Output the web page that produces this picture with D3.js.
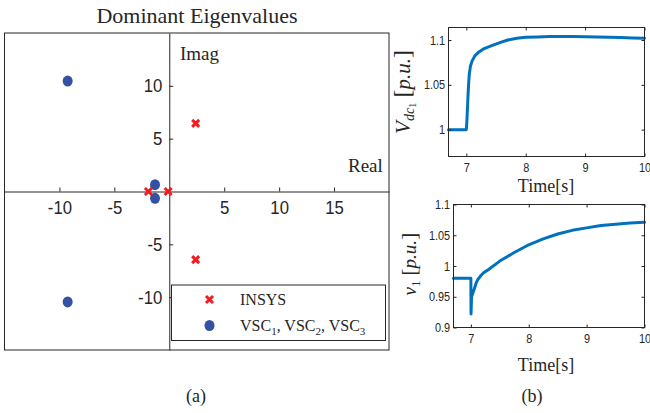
<!DOCTYPE html>
<html>
<head>
<meta charset="utf-8">
<script src="https://cdn.jsdelivr.net/npm/d3@7"></script>
<style>
  body { margin: 0; background: #fff; }
  text { fill: #262626; }
  .sans { font-family: "Liberation Sans", Arial, sans-serif; }
  .serif { font-family: "Liberation Serif", "Times New Roman", serif; }
</style>
</head>
<body>
<svg id="fig" width="650" height="413"></svg>
<script>
// eigenvalues (real, imag)
const insysReal = [-1.9, -0.1, 2.4, 2.4];
const insysImag = [0, 0, 6.45, -6.45];
const vscReal = [-9.25, -9.25, -1.3, -1.3];
const vscImag = [10.45, -10.45, 0.65, -0.65];
const eigXTicks = [-10, -5, 5, 10, 15];
const eigYTicks = [-10, -5, 5, 10];

// Vdc1 after the step at t = 7 s
const vdcTime = [6.7, 7.0, 7.01, 7.02, 7.03, 7.04, 7.05, 7.07, 7.1, 7.15, 7.2, 7.3, 7.45, 7.6, 7.7, 7.85, 8.0, 8.2, 8.4, 8.6, 8.8, 9.0, 9.2, 9.4, 9.6, 9.8, 10.0];
const vdcValue = [1.0, 1.0, 1.01, 1.025, 1.04, 1.052, 1.062, 1.071, 1.077, 1.083, 1.086, 1.0905, 1.0944, 1.098, 1.1, 1.102, 1.103, 1.1035, 1.104, 1.104, 1.104, 1.1037, 1.1033, 1.103, 1.1027, 1.1023, 1.102];

// v1 at the ac bus
const v1Time = [6.7, 7.0, 7.003, 7.012, 7.03, 7.06, 7.09, 7.12, 7.17, 7.22, 7.3, 7.5, 7.75, 8.0, 8.25, 8.5, 8.75, 9.0, 9.25, 9.5, 9.75, 10.0];
const v1Value = [0.98, 0.98, 0.922, 0.95, 0.955, 0.963, 0.972, 0.978, 0.984, 0.989, 0.994, 1.008, 1.022, 1.0345, 1.044, 1.052, 1.058, 1.062, 1.066, 1.068, 1.070, 1.071];

const timeTicks = [7, 8, 9, 10];
const vdcTicks = [1, 1.05, 1.1];
const v1Ticks = [0.9, 0.95, 1, 1.05, 1.1];

const svg = d3.select("#fig");
const axisColor = "#262626";
const lineBlue = "#0072bd";
const dotBlue = "#3352a3";
const xRed = "#f01c22";

// matlab style labels: plain hyphen, no trailing zeros
const fmt = d => String(+d.toFixed(2));

// ---------- (a) eigenvalue plane ----------
const xE = d3.scaleLinear().domain([-15, 20]).range([4.5, 389]);
const yE = d3.scaleLinear().domain([-15, 15]).range([350, 33]);

svg.append("rect")
    .attr("x", xE(-15)).attr("y", yE(15))
    .attr("width", xE(20) - xE(-15)).attr("height", yE(-15) - yE(15))
    .attr("fill", "none").attr("stroke", axisColor).attr("stroke-width", 1);

const gx = svg.append("g")
    .attr("transform", `translate(0,${yE(0)})`)
    .call(d3.axisBottom(xE).tickValues(eigXTicks).tickSize(-4).tickSizeOuter(0).tickPadding(9).tickFormat(fmt));
const gy = svg.append("g")
    .attr("transform", `translate(${xE(0)},0)`)
    .call(d3.axisLeft(yE).tickValues(eigYTicks).tickSize(-4).tickSizeOuter(0).tickPadding(8).tickFormat(fmt));
[gx, gy].forEach(g => {
  g.select(".domain").attr("stroke", axisColor);
  g.selectAll(".tick line").attr("stroke", axisColor);
  g.selectAll(".tick text").attr("class", "sans").attr("font-size", 19)
      .attr("fill", axisColor).attr("transform", "scale(0.88,1)");
});

svg.append("text").attr("class", "serif").attr("x", 197).attr("y", 23)
    .attr("text-anchor", "middle").attr("font-size", 22).text("Dominant Eigenvalues");
svg.append("text").attr("class", "serif").attr("x", 180).attr("y", 60)
    .attr("font-size", 19).text("Imag");
svg.append("text").attr("class", "serif").attr("x", 348).attr("y", 172)
    .attr("font-size", 19).text("Real");

const vscPts = vscReal.map((r, i) => ({re: r, im: vscImag[i]}));
const insysPts = insysReal.map((r, i) => ({re: r, im: insysImag[i]}));

function crossPath(cx, cy, s) {
  return `M${cx - s},${cy - s}L${cx + s},${cy + s}M${cx - s},${cy + s}L${cx + s},${cy - s}`;
}

svg.append("g").selectAll("ellipse").data(vscPts).join("ellipse")
    .attr("cx", d => xE(d.re)).attr("cy", d => yE(d.im))
    .attr("rx", 5).attr("ry", 5.5).attr("fill", dotBlue);
svg.append("g").selectAll("path").data(insysPts).join("path")
    .attr("d", d => crossPath(xE(d.re), yE(d.im), 3.5))
    .attr("stroke", xRed).attr("stroke-width", 3).attr("fill", "none");

// legend
const leg = svg.append("g");
leg.append("rect").attr("x", 171.5).attr("y", 285).attr("width", 214).attr("height", 55.5)
    .attr("fill", "#fff").attr("stroke", axisColor).attr("stroke-width", 1);
leg.append("path").attr("d", crossPath(209.5, 299.5, 3.5))
    .attr("stroke", xRed).attr("stroke-width", 3).attr("fill", "none");
leg.append("ellipse").attr("cx", 209.5).attr("cy", 325.5).attr("rx", 5).attr("ry", 5.5).attr("fill", dotBlue);
leg.append("text").attr("class", "serif").attr("x", 240).attr("y", 304.5)
    .attr("font-size", 16).text("INSYS");
const vscLabel = leg.append("text").attr("class", "serif").attr("x", 240).attr("y", 330.5).attr("font-size", 16);
[1, 2, 3].forEach((k, i) => {
  vscLabel.append("tspan").attr("dy", i === 0 ? 0 : -4).text((i === 0 ? "" : ", ") + "VSC");
  vscLabel.append("tspan").attr("dy", 4).attr("font-size", 11).text(k);
});

svg.append("text").attr("class", "serif").attr("x", 196).attr("y", 402)
    .attr("text-anchor", "middle").attr("font-size", 18).text("(a)");

// ---------- (b) time responses ----------
function timePanel(xr, yr, ydom, times, values, yticks) {
  const x = d3.scaleLinear().domain([6.7, 10]).range(xr);
  const y = d3.scaleLinear().domain(ydom).range(yr);
  const g = svg.append("g");

  g.append("path")
      .datum(times.map((t, i) => [t, values[i]]))
      .attr("d", d3.line().x(d => x(d[0])).y(d => y(d[1])))
      .attr("fill", "none").attr("stroke", lineBlue).attr("stroke-width", 3)
      .attr("stroke-linejoin", "round").attr("stroke-linecap", "round");

  const axes = [
    g.append("g").attr("transform", `translate(0,${yr[0]})`)
        .call(d3.axisBottom(x).tickValues(timeTicks).tickSize(-3).tickSizeOuter(0).tickPadding(6).tickFormat(fmt)),
    g.append("g").attr("transform", `translate(0,${yr[1]})`)
        .call(d3.axisTop(x).tickValues(timeTicks).tickSize(-3).tickSizeOuter(0).tickFormat("")),
    g.append("g").attr("transform", `translate(${xr[0]},0)`)
        .call(d3.axisLeft(y).tickValues(yticks).tickSize(-3).tickSizeOuter(0).tickPadding(4).tickFormat(fmt)),
    g.append("g").attr("transform", `translate(${xr[1]},0)`)
        .call(d3.axisRight(y).tickValues(yticks).tickSize(-3).tickSizeOuter(0).tickFormat(""))
  ];
  axes.forEach(a => {
    a.select(".domain").remove();
    a.selectAll(".tick line").attr("stroke", axisColor);
    a.selectAll(".tick text").attr("class", "sans").attr("font-size", 13)
        .attr("fill", axisColor).attr("transform", "scale(0.84,1)");
  });
  g.append("rect")
      .attr("x", xr[0]).attr("y", yr[1])
      .attr("width", xr[1] - xr[0]).attr("height", yr[0] - yr[1])
      .attr("fill", "none").attr("stroke", axisColor).attr("stroke-width", 1);
  return g;
}

timePanel([448.5, 644.5], [156.5, 27.5], [0.97, 1.114], vdcTime, vdcValue, vdcTicks);
timePanel([453.5, 644.5], [327.5, 204.5], [0.9, 1.1], v1Time, v1Value, v1Ticks);

// axis labels
function timeLabel(x, y) {
  svg.append("text").attr("class", "serif").attr("x", x).attr("y", y)
      .attr("text-anchor", "middle").attr("font-size", 18).text("Time[s]");
}
timeLabel(546, 192);
timeLabel(546, 371);

const vdcLab = svg.append("text").attr("class", "serif").attr("font-size", 21)
    .attr("text-anchor", "middle").attr("transform", "translate(410,92) rotate(-90)");
vdcLab.append("tspan").attr("font-style", "italic").text("V");
vdcLab.append("tspan").attr("font-style", "italic").attr("font-size", 14).attr("dy", 4).text("dc");
vdcLab.append("tspan").attr("font-size", 10).attr("dy", 2).text("1");
vdcLab.append("tspan").attr("dy", -6).text(" ");
vdcLab.append("tspan").attr("font-size", 24).text("[");
vdcLab.append("tspan").attr("font-style", "italic").text("p.u.");
vdcLab.append("tspan").attr("font-size", 24).text("]");

const v1Lab = svg.append("text").attr("class", "serif").attr("font-size", 19)
    .attr("text-anchor", "middle").attr("transform", "translate(416,264) rotate(-90)");
v1Lab.append("tspan").attr("font-style", "italic").text("v");
v1Lab.append("tspan").attr("font-size", 13).attr("dy", 4).text("1");
v1Lab.append("tspan").attr("dy", -4).text(" ");
v1Lab.append("tspan").attr("font-size", 22).text("[");
v1Lab.append("tspan").attr("font-style", "italic").text("p.u.");
v1Lab.append("tspan").attr("font-size", 22).text("]");

svg.append("text").attr("class", "serif").attr("x", 532).attr("y", 402)
    .attr("text-anchor", "middle").attr("font-size", 18).text("(b)");
</script>
</body>
</html>
